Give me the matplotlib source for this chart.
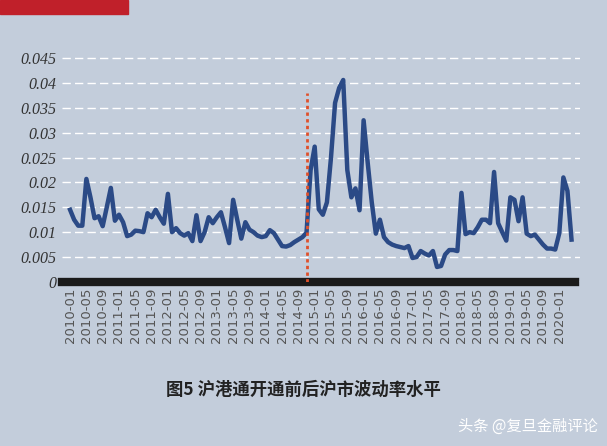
import matplotlib
matplotlib.use("Agg")
import matplotlib.pyplot as plt
from matplotlib.patches import Rectangle

values = [.0145,.0125,.0113,.0113,.0207,.0170,.0128,.0132,.0112,.0150,.0189,.0123,.0135,.0120,.0092,.0095,
          .0103,.0102,.0100,.0138,.0130,.0145,.0130,.0117,.0177,.0100,.0108,.0098,.0093,.0098,.0082,.0134,
          .0082,.0100,.0130,.0118,.0130,.0140,.0110,.0078,.0165,.0125,.0087,.0120,.0105,.0100,.0093,.0090,
          .0092,.0104,.0098,.0085,.0072,.0071,.0074,.0080,.0085,.0090,.0099,.0225,.0272,.0146,.0135,.0160,
          .0250,.0360,.0390,.0406,.0225,.0170,.0188,.0144,.0325,.0240,.0160,.0097,.0125,.0090,.0080,.0075,
          .0072,.0070,.0068,.0072,.0048,.0050,.0062,.0057,.0053,.0062,.0030,.0032,.0055,.0064,.0064,.0062,
          .0179,.0096,.0100,.0098,.0110,.0125,.0125,.0118,.0221,.0118,.0100,.0083,.0170,.0165,.0122,.0170,
          .0097,.0092,.0095,.0085,.0075,.0067,.0067,.0065,.0098,.0210,.0183,.0085]
months = [f"{2010 + i // 12}-{i % 12 + 1:02d}" for i in range(len(values))]
tick_idx = list(range(0, len(values), 4))
tick_labels = [months[i] for i in tick_idx]
yticks = [0, 0.005, 0.01, 0.015, 0.02, 0.025, 0.03, 0.035, 0.04, 0.045]
ytick_labels = ["0", "0.005", "0.01", "0.015", "0.02", "0.025", "0.03", "0.035", "0.04", "0.045"]
event_idx = months.index("2014-11")

bg = "#c3cddb"
fig = plt.figure(figsize=(6.07, 4.46), dpi=100, facecolor=bg)
ax = fig.add_axes([0.102, 0.368, 0.853, 0.524])
ax.set_facecolor(bg)
x = list(range(len(values)))
ax.plot(x, values, color="#2b4a86", lw=3.2, solid_joinstyle="round", zorder=3)
ax.set_xlim(-2, 125)
ax.set_ylim(0, 0.047)
ax.set_yticks(yticks)
ax.set_yticklabels(ytick_labels, fontfamily="Liberation Serif", fontstyle="italic", fontsize=11.5, color="#333333")
ax.set_xticks(tick_idx)
ax.set_xticklabels(tick_labels, rotation=90, fontsize=9.5, color="#555555")
ax.tick_params(length=0, pad=4)
ax.yaxis.grid(True, color="white", ls=(0, (6, 3)), lw=1)
for s in ax.spines.values():
    s.set_visible(False)
ax.axhline(0, xmin=0.0, xmax=0.99, color="#1a1a1a", lw=6, zorder=4, clip_on=False)
ax.vlines(event_idx, 0, 0.038, colors="#e0502a", linestyles=(0, (1.2, 1.2)), lw=2, zorder=5)

fig.patches.append(Rectangle((0, 1 - 14/446), 128/607, 14/446, transform=fig.transFigure, color="#c0202a"))
fig.text(0.5, 1 - 390/446, "图5 沪港通开通前后沪市波动率水平", ha="center", va="center",
         fontsize=12.5, fontweight="bold", fontfamily="Noto Sans CJK SC", color="#222222")
fig.text(0.985, 1 - 426/446, "头条 @复旦金融评论", ha="right", va="center",
         fontsize=11, fontfamily="Noto Sans CJK SC", color="white")
fig.savefig("out.png", dpi=100, facecolor=bg)
